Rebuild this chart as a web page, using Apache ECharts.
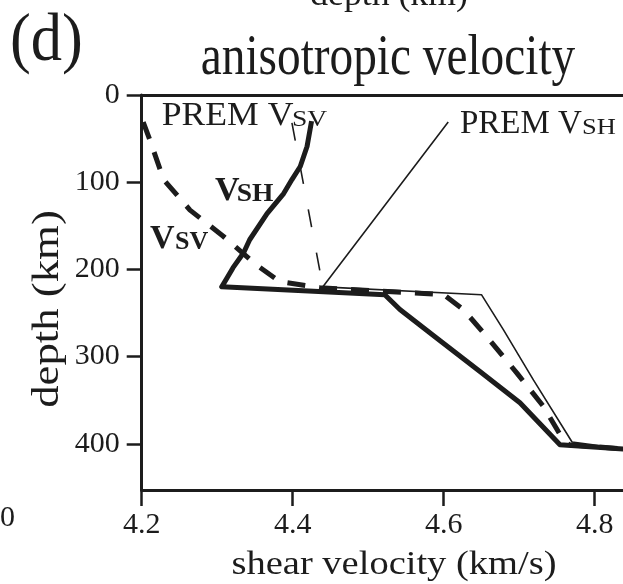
<!DOCTYPE html>
<html><head><meta charset="utf-8">
<script src="https://cdn.jsdelivr.net/npm/echarts@6/dist/echarts.min.js"></script>
<style>html,body{margin:0;padding:0;background:#fff;}#c{width:623px;height:584px;}</style>
</head><body><div id="c"></div>
<script>
// ---- data (velocity km/s, depth km) ----
const xTicks = [4.2, 4.4, 4.6, 4.8];
const yTicks = [0, 100, 200, 300, 400];

const vshVel   = [4.425, 4.419, 4.410, 4.399, 4.388, 4.366, 4.343, 4.335, 4.321, 4.313, 4.306, 4.522, 4.542, 4.591, 4.648, 4.701, 4.754, 4.840];
const vshDepth = [30, 59, 82, 97, 113, 136, 166, 181, 198, 210, 220, 229, 246, 279, 317, 353, 401, 406];

const vsvVel   = [4.202, 4.211, 4.229, 4.264, 4.308, 4.352, 4.383, 4.436, 4.600, 4.626, 4.657, 4.697, 4.732, 4.758, 4.766, 4.840];
const vsvDepth = [31, 52, 97, 132, 162, 195, 214, 221, 229, 246, 277, 319, 357, 395, 401, 406];

const premVsvVel   = [4.399, 4.440];
const premVsvDepth = [32, 220];

const premVshVel   = [4.606, 4.440, 4.650, 4.679, 4.719, 4.770, 4.840];
const premVshDepth = [31, 220, 229, 269, 327, 398, 406];

const zip = (a, b) => a.map((v, i) => [v, b[i]]);
const FONT = '"Liberation Serif","Times New Roman",serif';
const INK = '#1c1c1c';

function txt(text, x, baseline, size, o) {
  o = o || {};
  const font = (o.bold ? 'bold ' : '') + size + 'px ' + FONT;
  return {
    type: 'text', x: x, y: baseline - 0.31 * size * (o.rot ? 0 : 1) + (o.dy || 0),
    scaleX: o.sx || 1, rotation: o.rot || 0, silent: true,
    style: { text: text, font: font, fill: INK,
      align: o.align || 'left', textAlign: o.align || 'left',
      verticalAlign: 'middle', textVerticalAlign: 'middle' }
  };
}

const chart = echarts.init(document.getElementById('c'), null, {renderer: 'canvas'});
const axisLine = {show: true, onZero: false, lineStyle: {color: INK, width: 3}};
chart.setOption({
  animation: false,
  backgroundColor: '#fff',
  grid: {left: 141.7, top: 95, right: 0, bottom: 94, containLabel: false},
  xAxis: [{
    type: 'value', min: 4.2, max: 4.8375, position: 'bottom',
    axisLine: axisLine,
    axisTick: {show: true, length: 16, customValues: xTicks, lineStyle: {color: INK, width: 2.5}},
    axisLabel: {customValues: xTicks, formatter: v => v.toFixed(1), fontSize: 30, fontFamily: FONT, color: INK, margin: 20},
    splitLine: {show: false}
  }, {
    type: 'value', min: 4.2, max: 4.8375, position: 'top',
    axisLine: axisLine, axisTick: {show: false}, axisLabel: {show: false}, splitLine: {show: false}
  }],
  yAxis: {
    type: 'value', min: 0, max: 453, inverse: true,
    axisLine: axisLine,
    axisTick: {show: true, length: 15, customValues: yTicks, lineStyle: {color: INK, width: 2.5}},
    axisLabel: {customValues: yTicks, fontSize: 30, fontFamily: FONT, color: INK, margin: 22, padding: [7, 0, 0, 0]},
    splitLine: {show: false}
  },
  series: [
    {name: 'PREM VSV', type: 'line', data: zip(premVsvVel, premVsvDepth), showSymbol: false,
     lineStyle: {color: INK, width: 1.6, type: [18, 26]}},
    {name: 'PREM VSH', type: 'line', data: zip(premVshVel, premVshDepth), showSymbol: false,
     lineStyle: {color: INK, width: 1.6}},
    {name: 'VSV', type: 'line', data: zip(vsvVel, vsvDepth), showSymbol: false,
     lineStyle: {color: INK, width: 5, type: [18, 14]}},
    {name: 'VSH', type: 'line', data: zip(vshVel, vshDepth), showSymbol: false,
     lineStyle: {color: INK, width: 5, join: 'round'}}
  ],
  graphic: [
    txt('(d)', 10, 63, 68, {sx: 0.92}),
    txt('anisotropic velocity', 388, 77, 57, {sx: 0.83, align: 'center'}),
    txt('depth (km)', 389, 6.5, 34, {sx: 1.05, align: 'center'}),
    txt('depth (km)', 48.5, 309, 37, {sx: 1.21, align: 'center', rot: Math.PI / 2}),
    txt('shear velocity (km/s)', 394, 576, 33, {sx: 1.167, align: 'center'}),
    txt('0', 0, 527, 30),
    txt('PREM V', 161.7, 127, 33, {sx: 1.08}),
    txt('SV', 292, 127, 23, {sx: 1.2}),
    txt('PREM V', 460, 135, 33),
    txt('SH', 582, 135, 23, {sx: 1.15}),
    txt('V', 215, 202, 34, {bold: true}),
    txt('SH', 236.7, 202, 25, {bold: true, sx: 1.1}),
    txt('V', 150, 250, 34, {bold: true}),
    txt('SV', 175, 250, 26, {bold: true})
  ]
});
</script></body></html>
